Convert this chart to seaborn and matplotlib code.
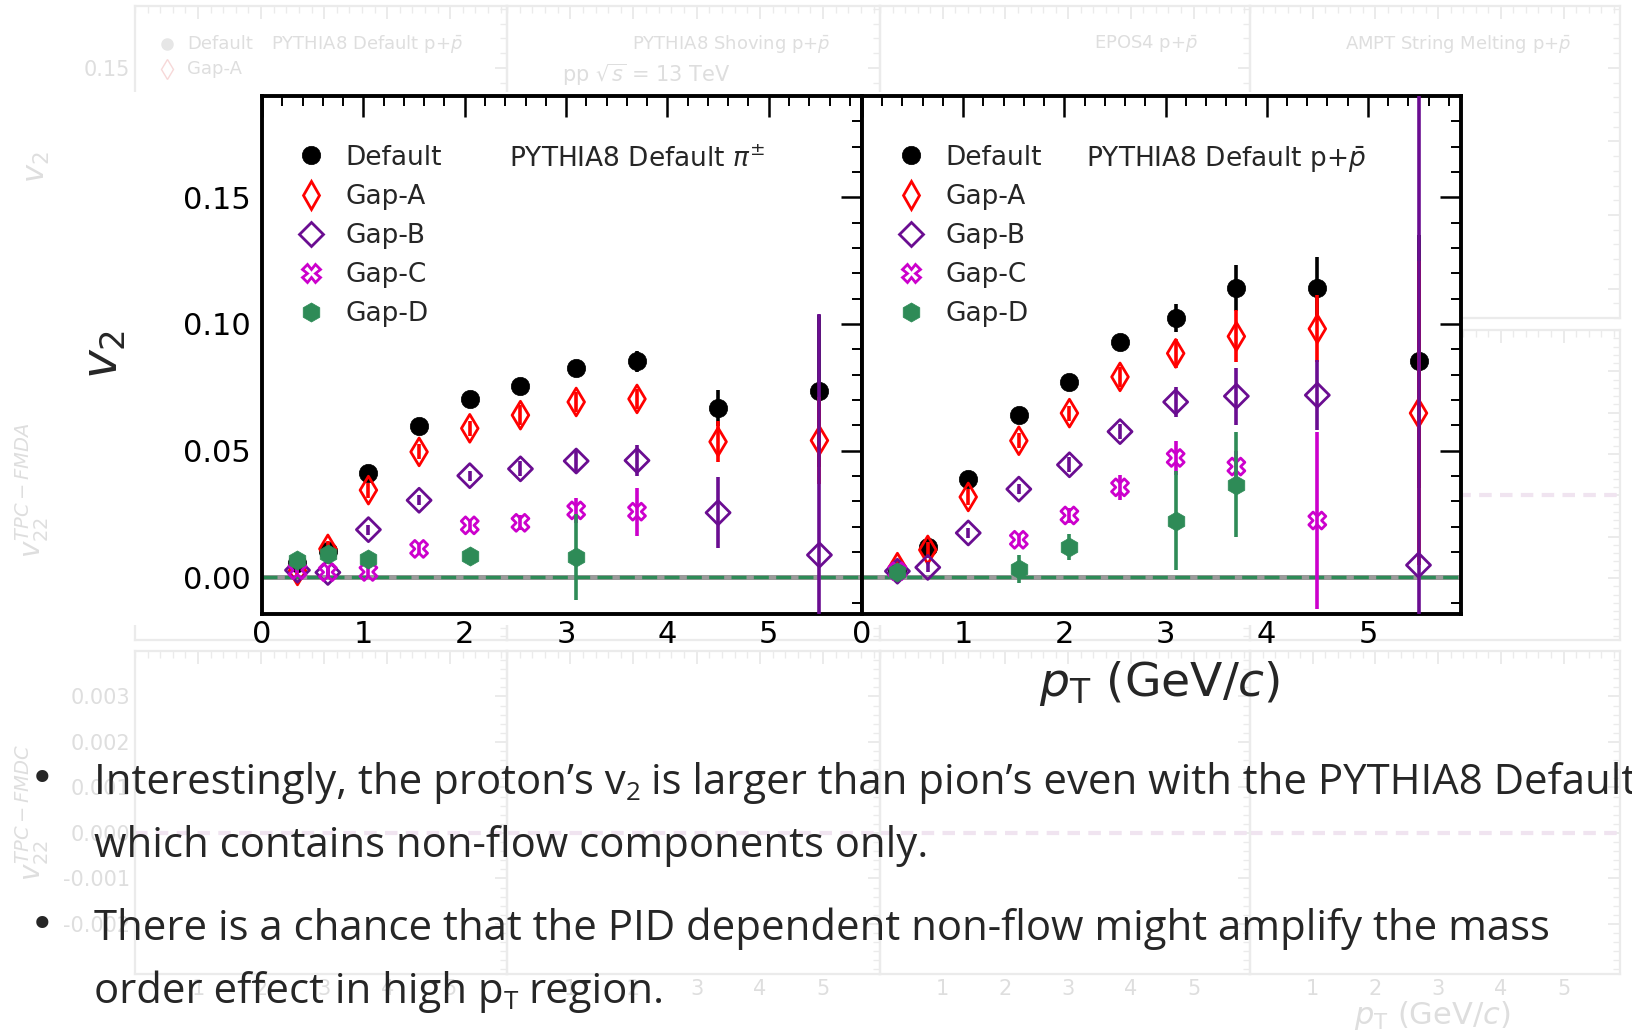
import numpy as np
import pandas as pd
import matplotlib
matplotlib.use("Agg")
import matplotlib.pyplot as plt
from matplotlib.lines import Line2D
from matplotlib.patches import Rectangle
from matplotlib.ticker import MultipleLocator, FixedLocator, FormatStrFormatter
import seaborn as sns

sns.set_style("white")
plt.rcParams["font.family"] = ["DejaVu Sans"]
plt.rcParams["mathtext.fontset"] = "dejavusans"

W, H = 1633, 1034
nan = np.nan

# ---- data: v2 vs pT ----
pt = [0.35, 0.65, 1.05, 1.55, 2.05, 2.55, 3.1, 3.7, 4.5, 5.5]

# pions
pi_default = [0.0055, 0.0105, 0.0412, 0.0598, 0.0702, 0.0756, 0.0828, 0.0852, 0.0668, 0.0736]
pi_default_err = [0.0005, 0.0008, 0.001, 0.001, 0.0012, 0.0015, 0.002, 0.004, 0.007, 0.03]
pi_gapA = [0.0025, 0.0112, 0.0344, 0.0495, 0.0588, 0.0640, 0.0692, 0.0704, 0.0535, 0.0540]
pi_gapA_err = [0.002, 0.003, 0.003, 0.003, 0.003, 0.004, 0.004, 0.004, 0.008, 0.017]
pi_gapB = [0.0028, 0.0019, 0.0188, 0.0304, 0.0401, 0.0428, 0.0459, 0.0461, 0.0255, 0.0088]
pi_gapB_err = [0.001, 0.002, 0.002, 0.002, 0.002, 0.003, 0.004, 0.006, 0.014, 0.095]
pi_gapC = [0.0028, 0.0020, 0.0021, 0.0112, 0.0205, 0.0215, 0.0264, 0.0259, nan, nan]
pi_gapC_err = [0.001, 0.002, 0.002, 0.002, 0.002, 0.003, 0.005, 0.0095, nan, nan]
pi_gapD = [0.0068, 0.0092, 0.0072, nan, 0.0085, nan, 0.0081, nan, nan, nan]
pi_gapD_err = [0.001, 0.002, 0.002, nan, 0.002, nan, 0.017, nan, nan, nan]

# protons
p_default = [0.0028, 0.0121, 0.0388, 0.0639, 0.0772, 0.0927, 0.1024, 0.1141, 0.1141, 0.0852]
p_default_err = [0.001, 0.002, 0.001, 0.001, 0.001, 0.003, 0.0055, 0.009, 0.0125, 0.05]
p_gapA = [0.0040, 0.0108, 0.0317, 0.0539, 0.0648, 0.0791, 0.0884, 0.0951, 0.0981, 0.0648]
p_gapA_err = [0.003, 0.003, 0.003, 0.003, 0.003, 0.004, 0.0057, 0.0103, 0.0133, 0.06]
p_gapB = [0.0024, 0.0039, 0.0175, 0.0348, 0.0444, 0.0575, 0.0692, 0.0715, 0.0719, 0.0048]
p_gapB_err = [0.002, 0.002, 0.002, 0.002, 0.003, 0.003, 0.006, 0.0113, 0.0137, 0.2]
p_gapC = [0.0024, nan, nan, 0.0148, 0.0244, 0.0355, 0.0471, 0.0437, 0.0224, nan]
p_gapC_err = [0.001, nan, nan, 0.002, 0.003, 0.005, 0.0067, 0.006, 0.035, nan]
p_gapD = [0.0020, nan, nan, 0.0032, 0.0119, nan, 0.0224, 0.0365, nan, nan]
p_gapD_err = [0.001, nan, nan, 0.0055, 0.005, nan, 0.0195, 0.0207, nan, nan]

series_names = ["Default", "Gap-A", "Gap-B", "Gap-C", "Gap-D"]
panel_titles = [r"PYTHIA8 Default $\pi^{\pm}$", r"PYTHIA8 Default p+$\bar{p}$"]

styles = {
    "Default": dict(marker="o", color="#000000", filled=True, s=175),
    "Gap-A": dict(marker="d", color="#ff0000", filled=False, s=200),
    "Gap-B": dict(marker="D", color="#6a0d91", filled=False, s=150),
    "Gap-C": dict(marker="X", color="#cc00cc", filled=False, s=150),
    "Gap-D": dict(marker="h", color="#2e8b57", filled=True, s=190),
}

panels = [
    [(pi_default, pi_default_err), (pi_gapA, pi_gapA_err), (pi_gapB, pi_gapB_err),
     (pi_gapC, pi_gapC_err), (pi_gapD, pi_gapD_err)],
    [(p_default, p_default_err), (p_gapA, p_gapA_err), (p_gapB, p_gapB_err),
     (p_gapC, p_gapC_err), (p_gapD, p_gapD_err)],
]

fig = plt.figure(figsize=(W / 100, H / 100), dpi=100)
fig.patch.set_facecolor("white")

def fx(px):
    return px / W

def fy(py):
    return 1 - py / H

# ---- faded background figure ----
ghost_line = "#ebebeb"
ghost_text = "#dedede"
col_edges = [135, 507, 880, 1250, 1620]
row_edges = [(6, 318), (330, 640), (651, 974)]
row_ylims = [(-0.02, 0.192), (-0.0035, 0.0040), (-0.0031, 0.0040)]
for r, (top, bot) in enumerate(row_edges):
    for c in range(4):
        l, rgt = col_edges[c], col_edges[c + 1]
        g = fig.add_axes([fx(l), fy(bot), fx(rgt - l), (bot - top) / H], zorder=0)
        g.set_facecolor("none")
        g.set_xlim(0, 5.9)
        g.set_ylim(*row_ylims[r])
        for sp in g.spines.values():
            sp.set_color(ghost_line)
            sp.set_linewidth(1.6)
        g.xaxis.set_major_locator(FixedLocator([1, 2, 3, 4, 5]))
        g.xaxis.set_minor_locator(MultipleLocator(0.2))
        if r == 0:
            g.yaxis.set_major_locator(FixedLocator([0.0, 0.05, 0.10, 0.15]))
            g.yaxis.set_minor_locator(MultipleLocator(0.01))
            g.yaxis.set_major_formatter(FormatStrFormatter("%.2f"))
        else:
            g.yaxis.set_major_locator(FixedLocator([-0.002, -0.001, 0.0, 0.001, 0.002, 0.003]))
            g.yaxis.set_minor_locator(MultipleLocator(0.0002))
            g.yaxis.set_major_formatter(FormatStrFormatter("%.3f"))
        g.tick_params(which="both", direction="in", top=True, right=True,
                      color=ghost_line, labelcolor=ghost_text, labelsize=15,
                      labelleft=(c == 0), labelbottom=(r == 2))
        g.tick_params(which="major", length=9, width=1.4)
        g.tick_params(which="minor", length=5, width=1.0)
        if r > 0:
            g.axhline(0, color="#f0e4f0", lw=3, ls=(0, (3, 2)))

fig.text(fx(367), fy(44), r"PYTHIA8 Default p+$\bar{p}$", color=ghost_text, fontsize=13,
         ha="center", va="center")
fig.text(fx(731), fy(44), r"PYTHIA8 Shoving p+$\bar{p}$", color=ghost_text, fontsize=13,
         ha="center", va="center")
fig.text(fx(1146), fy(44), r"EPOS4 p+$\bar{p}$", color=ghost_text, fontsize=13,
         ha="center", va="center")
fig.text(fx(1458), fy(44), r"AMPT String Melting p+$\bar{p}$", color=ghost_text, fontsize=13,
         ha="center", va="center")
fig.text(fx(646), fy(75), r"pp $\sqrt{s}$ = 13 TeV", color=ghost_text, fontsize=15,
         ha="center", va="center")
fig.text(fx(187), fy(44), "Default", color=ghost_text, fontsize=13, ha="left", va="center")
fig.text(fx(187), fy(69), "Gap-A", color=ghost_text, fontsize=13, ha="left", va="center")
fig.add_artist(Line2D([fx(167)], [fy(44)], marker="o", markersize=8, ls="none",
                      color="#e6e6e6", transform=fig.transFigure))
fig.add_artist(Line2D([fx(167)], [fy(69)], marker="d", markersize=10, ls="none",
                      markerfacecolor="none", markeredgecolor="#f7d8d8",
                      transform=fig.transFigure))
fig.text(fx(38), fy(167), r"$v_2$", color=ghost_text, fontsize=22, rotation=90,
         ha="center", va="center")
fig.text(fx(32), fy(490), r"$v_{22}^{TPC-FMDA}$", color=ghost_text, fontsize=20, rotation=90,
         ha="center", va="center")
fig.text(fx(32), fy(812), r"$v_{22}^{TPC-FMDC}$", color=ghost_text, fontsize=20, rotation=90,
         ha="center", va="center")
fig.text(fx(1432), fy(1015), r"$p_\mathrm{T}$ (GeV/$c$)", color=ghost_text, fontsize=22,
         ha="center", va="center")

# white backing behind the main chart
fig.patches.append(Rectangle((fx(57), fy(625)), fx(1463 - 57), (625 - 92) / H,
                             transform=fig.transFigure, facecolor="white",
                             edgecolor="none", zorder=1))

# ---- main two-panel chart ----
ax_left = 262
ax_top, ax_bot = 96, 614
widths = [600, 599]
axes = []
x0 = ax_left
for i in range(2):
    ax = fig.add_axes([fx(x0), fy(ax_bot), fx(widths[i]), (ax_bot - ax_top) / H], zorder=5)
    x0 += widths[i]
    axes.append(ax)

for i, ax in enumerate(axes):
    ax.set_facecolor("white")
    ax.set_xlim(0, 5.92)
    ax.set_ylim(-0.0145, 0.19)
    ax.axhline(0, color="#9a9a9a", lw=3.6, zorder=1)
    ax.axhline(0, color="#2e8b57", lw=2.4, ls=(0, (4.5, 2.2)), zorder=1.5)

    for k, name in enumerate(series_names):
        vals, errs = panels[i][k]
        st = styles[name]
        df = pd.DataFrame({"pt": pt, "v2": vals, "err": errs}).dropna()
        z = 2 + k
        ax.errorbar(df["pt"], df["v2"], yerr=df["err"], fmt="none",
                    ecolor=st["color"], elinewidth=2.6, capsize=0, zorder=z)
        if st["filled"]:
            sns.scatterplot(data=df, x="pt", y="v2", ax=ax, marker=st["marker"],
                            s=st["s"], color=st["color"], edgecolor=st["color"],
                            linewidth=0.5, legend=False, zorder=z + 0.5)
        else:
            sns.scatterplot(data=df, x="pt", y="v2", ax=ax, marker=st["marker"],
                            s=st["s"], color=st["color"], facecolor="none",
                            edgecolor=st["color"], linewidth=2.0, legend=False,
                            zorder=z + 0.5)

    ax.set_xlabel("")
    ax.set_ylabel("")
    ax.xaxis.set_major_locator(MultipleLocator(1))
    ax.xaxis.set_minor_locator(MultipleLocator(0.2))
    ax.yaxis.set_major_locator(MultipleLocator(0.05))
    ax.yaxis.set_minor_locator(MultipleLocator(0.01))
    ax.yaxis.set_major_formatter(FormatStrFormatter("%.2f"))
    ax.tick_params(which="both", direction="in", top=True, right=True, colors="black",
                   labelsize=22, labelleft=(i == 0))
    ax.tick_params(axis="x", pad=4)
    ax.tick_params(axis="y", pad=8)
    ax.tick_params(which="major", length=15, width=1.8)
    ax.tick_params(which="minor", length=7, width=1.4)
    for sp in ax.spines.values():
        sp.set_color("black")
        sp.set_linewidth(2.8)

    handles = []
    for name in series_names:
        st = styles[name]
        handles.append(Line2D([], [], ls="none", marker=st["marker"],
                              markersize=np.sqrt(st["s"]),
                              markerfacecolor=st["color"] if st["filled"] else "none",
                              markeredgecolor=st["color"],
                              markeredgewidth=2.0 if not st["filled"] else 0.5))
    ax.legend(handles, series_names, loc="upper left", bbox_to_anchor=(0.06, 0.906),
              frameon=False, fontsize=19, handlelength=1.0, handletextpad=0.8,
              labelspacing=0.50, borderpad=0, borderaxespad=0)
    ax.text([0.411, 0.374][i], 0.863, panel_titles[i], transform=ax.transAxes,
            fontsize=19, ha="left", va="baseline")

fig.text(fx(104), fy(354), r"$v_2$", fontsize=35, rotation=90, ha="center", va="center")
fig.text(fx(1160), fy(684), r"$p_\mathrm{T}$ (GeV/$c$)", fontsize=34, ha="center", va="center")

# ---- bullet text with subscripts ----
bullet_family = ["Open Sans", "DejaVu Sans"]
bullet_size = 30.2
renderer = fig.canvas.get_renderer()

def text_width(s, size):
    t = fig.text(0, 0, s, fontsize=size, family=bullet_family)
    w = t.get_window_extent(renderer).width
    t.remove()
    return w

space_w = text_width("a a", bullet_size) - text_width("aa", bullet_size)

def rich_line(x_px, base_px, pieces):
    x = x_px
    for s, sub in pieces:
        lead = len(s) - len(s.lstrip(" "))
        x += lead * space_w
        s = s.lstrip(" ")
        size = bullet_size * 0.62 if sub else bullet_size
        yb = base_px + (bullet_size * 0.20 if sub else 0)
        t = fig.text(fx(x), fy(yb), s, fontsize=size, family=bullet_family,
                     ha="left", va="baseline", zorder=10)
        x = t.get_window_extent(renderer).x1

lines = [
    (794, [("Interestingly, the proton\u2019s v", False), ("2", True),
           (" is larger than pion\u2019s even with the PYTHIA8 Default", False)]),
    (857, [("which contains non-flow components only.", False)]),
    (940, [("There is a chance that the PID dependent non-flow might amplify the mass", False)]),
    (1003, [("order effect in high p", False), ("T", True), (" region.", False)]),
]
for base, pieces in lines:
    rich_line(94, base, pieces)
for base in (794, 940):
    fig.text(fx(42), fy(base - 2), "\u2022", fontsize=30, family=["DejaVu Sans"],
             ha="center", va="baseline")

fig.savefig("out.png", dpi=100, facecolor="white")
